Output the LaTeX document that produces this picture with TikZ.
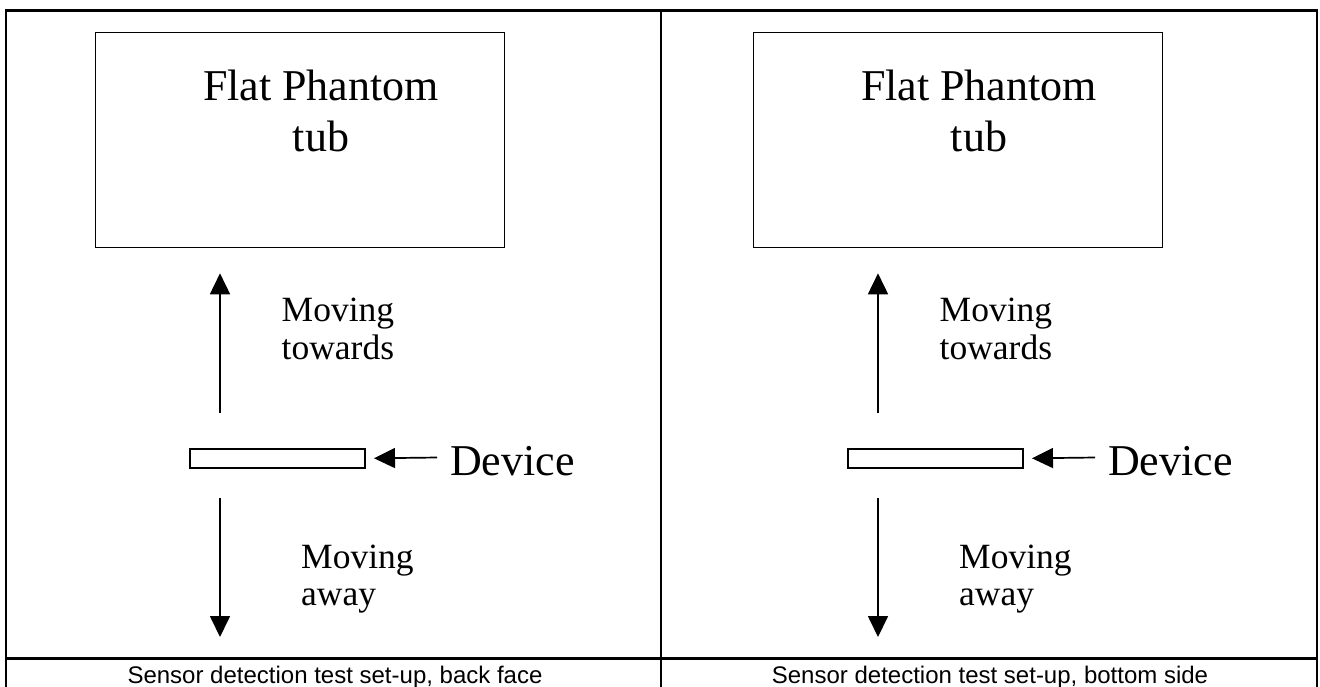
\documentclass[tikz,border=0pt]{standalone}
\usepackage{fontspec}
\setmainfont{Liberation Serif}
\newfontfamily\capfont{Liberation Sans}
\usetikzlibrary{arrows.meta}
\begin{document}
\begin{tikzpicture}[x=1pt,y=-1pt,
  frame/.style={line width=2.8pt, black},
  tubbox/.style={draw, line width=1.6pt, inner sep=0pt, anchor=north west},
  devbox/.style={draw, line width=1.6pt, inner sep=0pt, anchor=north west},
  move/.style={line width=1.7pt, -{Triangle[length=21pt,width=20pt]}},
  bigtxt/.style={font=\fontsize{44}{51.7}\selectfont, inner sep=0pt},
  midtxt/.style={font=\fontsize{35.5}{37.5}\selectfont, inner sep=0pt, anchor=base west},
  captxt/.style={font=\capfont\fontsize{24}{28}\selectfont, inner sep=0pt, anchor=base}]
\useasboundingbox (0,0) rectangle (1320,686);
\fill[white] (0,0) rectangle (1320,686);
% table frame
\draw[frame] (6,692) -- (6,10.5) -- (1317,10.5) -- (1317,692);
\draw[frame] (661,10.5) -- (661,692);
\draw[frame] (6,658.5) -- (1317,658.5);
\foreach \o/\n/\cx/\captext in {0/L/335/{back face}, 658/R/990/{bottom side}} {
  % tub
  \node[tubbox, minimum width=409pt, minimum height=215pt] (tub\n) at (94.5+\o,31.7) {};
  \node[bigtxt, anchor=base] (tubtxt\n) at (321+\o,100)
    {\begin{tabular}[t]{@{}c@{}}Flat Phantom\\tub\end{tabular}};
  % moving towards
  \coordinate (upS\n) at (220+\o,413);
  \coordinate (upE\n) at (220+\o,273.3);
  \draw[move] (upS\n) -- (upE\n);
  \node[midtxt] (towards\n) at (281.5+\o,321.7)
    {\begin{tabular}[t]{@{}l@{}}Moving\\towards\end{tabular}};
  % device
  \node[devbox, minimum width=175pt, minimum height=19pt] (dev\n) at (189.4+\o,448) {};
  \node[bigtxt, anchor=base west] (devtxt\n) at (450+\o,475.7) {Device};
  \coordinate (devtail\n) at (437+\o,457.5);
  \draw[move] (devtail\n) -- ([xshift=8pt]dev\n.east);
  % moving away
  \coordinate (dnS\n) at (220+\o,498);
  \coordinate (dnE\n) at (220+\o,637);
  \draw[move] (dnS\n) -- (dnE\n);
  \node[midtxt] (away\n) at (301+\o,568)
    {\begin{tabular}[t]{@{}l@{}}Moving\\away\end{tabular}};
  % caption
  \node[captxt] (cap\n) at (\cx,683) {Sensor detection test set-up, \captext};
}
\end{tikzpicture}
\end{document}
